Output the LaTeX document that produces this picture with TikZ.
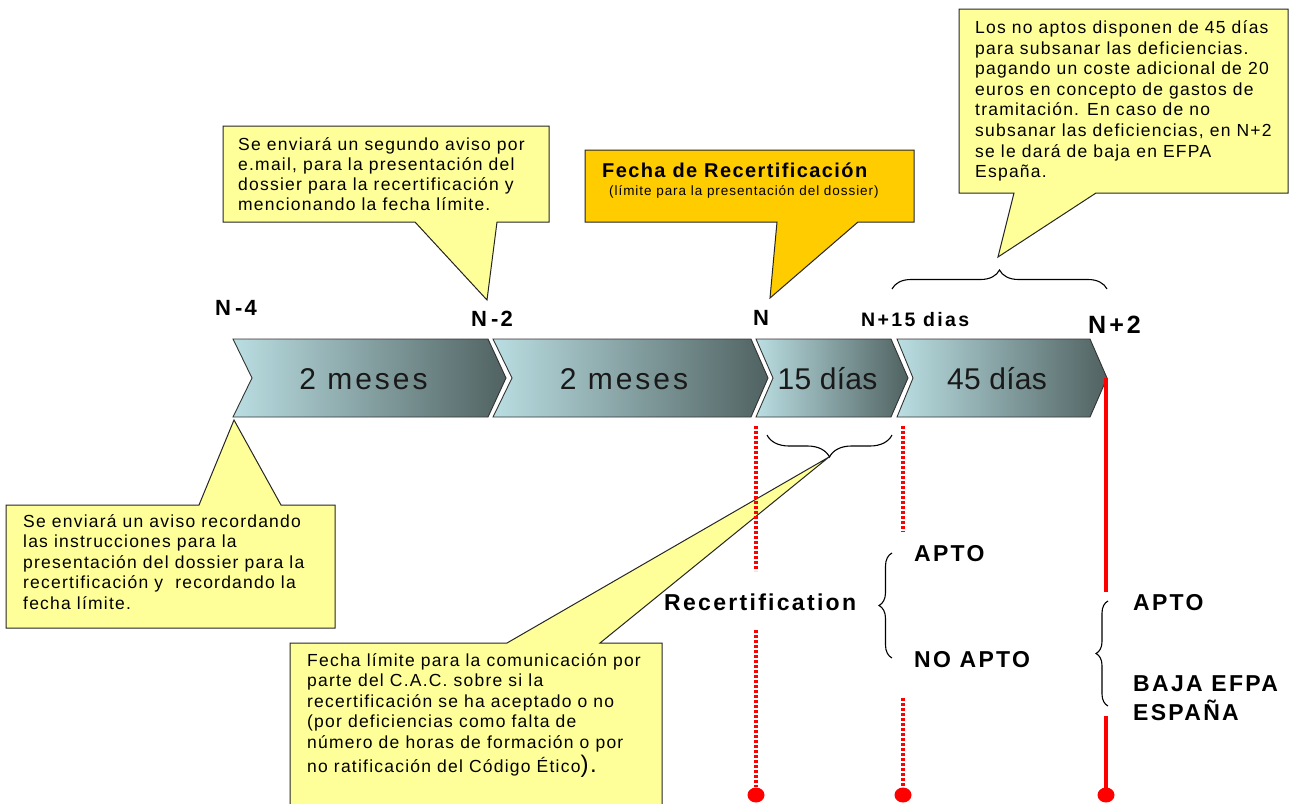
\documentclass[tikz,border=0pt]{standalone}
\usepackage{fontspec}
\setmainfont{Liberation Sans}
\newfontfamily\csp[LetterSpace=7]{Liberation Sans}
\newfontfamily\lsp[LetterSpace=10]{Liberation Sans}
\newfontfamily\lspw[LetterSpace=12]{Liberation Sans}
\newfontfamily\lspn[LetterSpace=1]{Liberation Sans}
\usetikzlibrary{decorations.pathreplacing}
\definecolor{callout}{RGB}{255,255,153}
\definecolor{gold}{RGB}{255,204,0}
\definecolor{chevL}{RGB}{186,222,226}
\definecolor{chevM}{RGB}{136,164,166}
\definecolor{chevR}{RGB}{80,98,97}
\definecolor{redline}{RGB}{255,0,0}
\tikzset{
  calloutbox/.style={fill=callout,draw=black!85,line width=1pt},
  goldbox/.style={fill=gold,draw=black!85,line width=1pt},
  chev/.style={left color=chevL,middle color=chevM,right color=chevR,draw=black!80,line width=0.9pt},
  ctext/.style={anchor=base west,inner sep=0pt,font=\csp\fontsize{17.5}{20}\selectfont},
  chevtext/.style={anchor=base,inner sep=0pt,font=\lsp\fontsize{30}{30}\selectfont,text=black!90},
  daytext/.style={anchor=base,inner sep=0pt,font=\lspn\fontsize{30}{30}\selectfont,text=black!90},
  tlabel/.style={anchor=base west,inner sep=0pt,font=\lsp\bfseries\fontsize{22}{22}\selectfont},
  blabel/.style={anchor=base west,inner sep=0pt,font=\lsp\bfseries\fontsize{23}{23}\selectfont},
  dotline/.style={draw=redline,line width=3.2pt,dash pattern=on 3pt off 2pt},
  solidline/.style={draw=redline,line width=3.2pt},
  enddot/.style={fill=redline},
  bracedeco/.style={draw=black,line width=1.1pt,decorate},
}
\begin{document}
\begin{tikzpicture}[x=1pt,y=-1pt]
\clip (0,0) rectangle (1298,803);
\fill[white] (0,0) rectangle (1298,803);

% chevrons
\shadedraw[chev] (233,339) -- (488,339) -- (506,378) -- (488,417) -- (233,417) -- (252,378) -- cycle;
\shadedraw[chev] (493,339) -- (751,339) -- (768,378) -- (751,417) -- (493,417) -- (512,378) -- cycle;
\shadedraw[chev] (756,339) -- (891,339) -- (908,378) -- (891,417) -- (756,417) -- (773,378) -- cycle;
\shadedraw[chev] (897,339) -- (1090,339) -- (1107,378) -- (1090,417) -- (897,417) -- (913,378) -- cycle;

\node[chevtext] (c1) at (363.5,389) {2 meses};
\node[chevtext] (c2) at (624,389) {2 meses};
\node[daytext] (c3) at (827.5,389) {15 días};
\node[daytext] (c4) at (997,389) {45 días};

% callouts
\draw[calloutbox] (223,126) -- (549,126) -- (549,222) -- (497,222) -- (487,300) -- (415,222) -- (223,222) -- cycle;
\draw[goldbox] (585,150) -- (914,150) -- (914,222) -- (858,222) -- (770,298) -- (777,222) -- (585,222) -- cycle;
\draw[calloutbox] (959,9) -- (1288,9) -- (1288,193) -- (1096,193) -- (998,257) -- (1014,193) -- (959,193) -- cycle;
\draw[calloutbox] (6,505) -- (199,505) -- (234,420) -- (281,505) -- (335,505) -- (335,628) -- (6,628) -- cycle;
\draw[calloutbox] (290,643) -- (507,643) -- (829,457) -- (600,643) -- (662,643) -- (662,830) -- (290,830) -- cycle;

% callout texts
\foreach \t [count=\i from 0] in {{Se enviará un segundo aviso por},{e.mail, para la presentación del},{dossier para la recertificación y},{mencionando la fecha límite.}}
  \node[ctext] (tl\i) at (238,{150.5+20*\i}) {\t};

\node[anchor=base west,inner sep=0pt,font=\csp\bfseries\fontsize{20}{20}\selectfont] (fecha) at (602,177) {Fecha de Recertificación};
\node[anchor=base west,inner sep=0pt,font=\csp\fontsize{13.5}{14}\selectfont] (fechasub) at (609,195.5) {(límite para la presentación del dossier)};

\foreach \t [count=\i from 0] in {{Los no aptos disponen de 45 días},{para subsanar las deficiencias.},{pagando un coste adicional de 20},{euros en concepto de gastos de},{tramitación. En caso de no},{subsanar las deficiencias, en N+2},{se le dará de baja en EFPA},{España.}}
  \node[ctext] (tr\i) at (975,{33.5+20.6*\i}) {\t};

\foreach \t [count=\i from 0] in {{Se enviará un aviso recordando},{las instrucciones para la},{presentación del dossier para la},{recertificación y\ \ recordando la},{fecha límite.}}
  \node[ctext] (bl\i) at (23,{527+20.5*\i}) {\t};

\foreach \t [count=\i from 0] in {{Fecha límite para la comunicación por},{parte del C.A.C. sobre si la},{recertificación se ha aceptado o no},{(por deficiencias como falta de},{número de horas de formación o por}}
  \node[ctext] (bm\i) at (307,{666+20.5*\i}) {\t};
\node[ctext] (bm5) at (307,772) {no ratificación del Código Ético{\fontsize{24}{24}\selectfont).}};

% timeline labels
\node[tlabel] (n4) at (215,315) {N\kern4pt-4};
\node[tlabel] (n2) at (471,326) {N\kern4pt-2};
\node[tlabel] (n0) at (753,325) {N};
\node[anchor=base west,inner sep=0pt,font=\lspw\bfseries\fontsize{19.5}{20}\selectfont] (n15) at (861,326) {N+15 dias};
\node[anchor=base west,inner sep=0pt,font=\lspw\bfseries\fontsize{25}{25}\selectfont] (np2) at (1088,333) {N+2};

% red lines
\coordinate (dA1) at (756,426); \coordinate (dA2) at (756,571);
\coordinate (dA3) at (756,630); \coordinate (dA4) at (756,787);
\coordinate (dB1) at (903,426); \coordinate (dB2) at (903,532);
\coordinate (dB3) at (903,698); \coordinate (dB4) at (903,787);
\coordinate (dC1) at (1106,378); \coordinate (dC2) at (1106,592);
\coordinate (dC3) at (1106,716); \coordinate (dC4) at (1106,795);
\draw[dotline] (dA1) -- (dA2);
\draw[dotline] (dA3) -- (dA4);
\draw[dotline] (dB1) -- (dB2);
\draw[dotline] (dB3) -- (dB4);
\draw[solidline] (dC1) -- (dC2);
\draw[solidline] (dC3) -- (dC4);
\fill[enddot] (756,795) ellipse (8.5 and 7.5);
\fill[enddot] (903,795) ellipse (8.5 and 7.5);
\fill[enddot] (1106,795) ellipse (8.5 and 7.5);

% braces
\draw[bracedeco,decoration={brace,amplitude=19pt}] (892,289) -- (1107,289);
\draw[bracedeco,decoration={brace,amplitude=22pt}] (892,435) -- (767,435);
\draw[bracedeco,decoration={brace,amplitude=13pt}] (892,658) -- (892,553);
\draw[bracedeco,decoration={brace,amplitude=12pt}] (1108,706) -- (1108,601);

% bottom labels
\node[blabel] (recert) at (664,610) {Recertification};
\node[blabel] (apto1) at (914,561) {APTO};
\node[blabel] (noapto) at (914,667) {NO APTO};
\node[blabel] (apto2) at (1133,610) {APTO};
\node[blabel] (baja) at (1133,691) {BAJA EFPA};
\node[blabel] (espana) at (1133,720) {ESPAÑA};
\end{tikzpicture}
\end{document}
